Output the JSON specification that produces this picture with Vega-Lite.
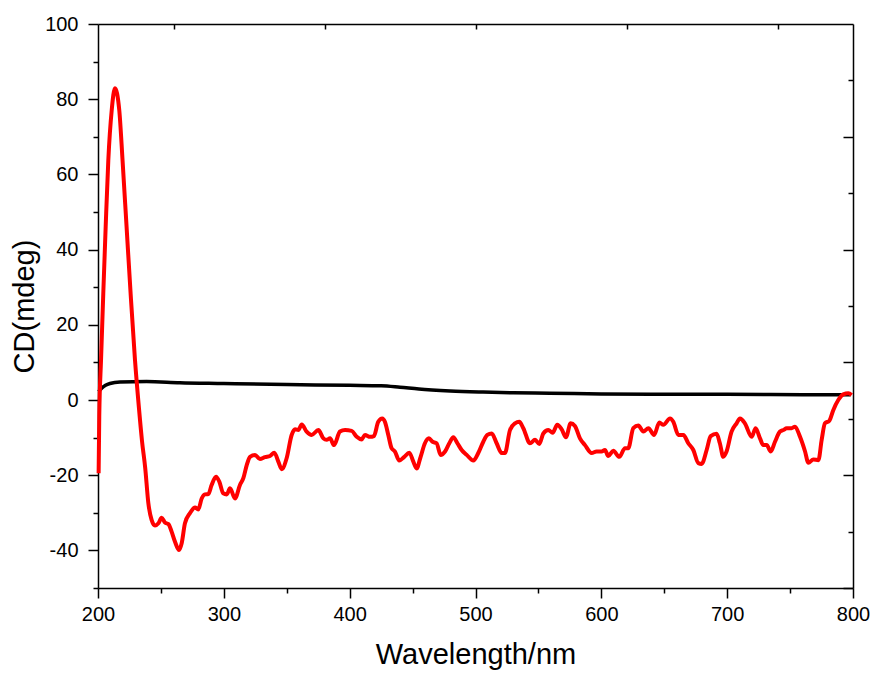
{
  "$schema": "https://vega.github.io/schema/vega-lite/v6.json",
  "width": 755,
  "height": 564,
  "autosize": {"type": "none"},
  "padding": {"left": 98, "top": 24, "right": 22, "bottom": 89},
  "background": "white",
  "config": {
    "view": {"stroke": null},
    "axis": {
      "labelFont": "Liberation Sans",
      "titleFont": "Liberation Sans",
      "labelFontSize": 20,
      "titleFontSize": 29,
      "titleFontWeight": "normal",
      "labelColor": "#000000",
      "titleColor": "#000000",
      "tickColor": "#000000",
      "domainColor": "#000000",
      "domainWidth": 1.5,
      "tickWidth": 1.5,
      "grid": false,
      "labelFlush": false,
      "labelOverlap": false
    }
  },
  "data": {
    "values": [
      {"series": "black", "wl": 200.5, "cd": 2.2},
      {"series": "black", "wl": 202.9, "cd": 3.1},
      {"series": "black", "wl": 206, "cd": 3.9},
      {"series": "black", "wl": 209.5, "cd": 4.4},
      {"series": "black", "wl": 217.5, "cd": 4.8},
      {"series": "black", "wl": 238.6, "cd": 4.9},
      {"series": "black", "wl": 265, "cd": 4.6},
      {"series": "black", "wl": 300, "cd": 4.4},
      {"series": "black", "wl": 350, "cd": 4.1},
      {"series": "black", "wl": 400, "cd": 3.9},
      {"series": "black", "wl": 425, "cd": 3.8},
      {"series": "black", "wl": 440, "cd": 3.4},
      {"series": "black", "wl": 455, "cd": 2.9},
      {"series": "black", "wl": 480, "cd": 2.4},
      {"series": "black", "wl": 506, "cd": 2.1},
      {"series": "black", "wl": 530, "cd": 1.9},
      {"series": "black", "wl": 559, "cd": 1.8},
      {"series": "black", "wl": 600, "cd": 1.6},
      {"series": "black", "wl": 640, "cd": 1.5},
      {"series": "black", "wl": 700, "cd": 1.5},
      {"series": "black", "wl": 760, "cd": 1.4},
      {"series": "black", "wl": 798, "cd": 1.4},
      {"series": "red", "wl": 200.5, "cd": -19.5},
      {"series": "red", "wl": 201, "cd": -4.4},
      {"series": "red", "wl": 202.4, "cd": 10.6},
      {"series": "red", "wl": 204.2, "cd": 28.4},
      {"series": "red", "wl": 206.1, "cd": 46.1},
      {"series": "red", "wl": 208.2, "cd": 63.8},
      {"series": "red", "wl": 210.9, "cd": 77.1},
      {"series": "red", "wl": 213.5, "cd": 82.9},
      {"series": "red", "wl": 216.9, "cd": 77.1},
      {"series": "red", "wl": 219.5, "cd": 63.8},
      {"series": "red", "wl": 222.7, "cd": 46.1},
      {"series": "red", "wl": 225.9, "cd": 28.4},
      {"series": "red", "wl": 229.4, "cd": 10.6},
      {"series": "red", "wl": 232.5, "cd": -2},
      {"series": "red", "wl": 235, "cd": -11},
      {"series": "red", "wl": 237.5, "cd": -18},
      {"series": "red", "wl": 240, "cd": -27.4},
      {"series": "red", "wl": 242.6, "cd": -31.9},
      {"series": "red", "wl": 245.3, "cd": -33.4},
      {"series": "red", "wl": 248, "cd": -32.8},
      {"series": "red", "wl": 250.6, "cd": -31.3},
      {"series": "red", "wl": 253.2, "cd": -32.6},
      {"series": "red", "wl": 255.9, "cd": -33},
      {"series": "red", "wl": 258.5, "cd": -35},
      {"series": "red", "wl": 261.2, "cd": -37.7},
      {"series": "red", "wl": 264.4, "cd": -39.9},
      {"series": "red", "wl": 266.5, "cd": -38.1},
      {"series": "red", "wl": 269.1, "cd": -32.8},
      {"series": "red", "wl": 273.1, "cd": -30.1},
      {"series": "red", "wl": 277.1, "cd": -28.6},
      {"series": "red", "wl": 279.7, "cd": -29.1},
      {"series": "red", "wl": 282.4, "cd": -26.2},
      {"series": "red", "wl": 285, "cd": -25.1},
      {"series": "red", "wl": 287.7, "cd": -25},
      {"series": "red", "wl": 290.3, "cd": -22.6},
      {"series": "red", "wl": 293.8, "cd": -20.4},
      {"series": "red", "wl": 296.4, "cd": -21.7},
      {"series": "red", "wl": 299.5, "cd": -24.8},
      {"series": "red", "wl": 302.3, "cd": -25.1},
      {"series": "red", "wl": 304.9, "cd": -23.5},
      {"series": "red", "wl": 308.9, "cd": -26.2},
      {"series": "red", "wl": 312.8, "cd": -22.6},
      {"series": "red", "wl": 315.5, "cd": -20.8},
      {"series": "red", "wl": 318.2, "cd": -17.3},
      {"series": "red", "wl": 320.8, "cd": -15.1},
      {"series": "red", "wl": 324.8, "cd": -14.6},
      {"series": "red", "wl": 328.7, "cd": -15.7},
      {"series": "red", "wl": 332.7, "cd": -15.2},
      {"series": "red", "wl": 336.7, "cd": -14.9},
      {"series": "red", "wl": 340.1, "cd": -14},
      {"series": "red", "wl": 343.3, "cd": -16.4},
      {"series": "red", "wl": 346, "cd": -18.4},
      {"series": "red", "wl": 349.9, "cd": -15.5},
      {"series": "red", "wl": 353.9, "cd": -9.3},
      {"series": "red", "wl": 356.6, "cd": -7.8},
      {"series": "red", "wl": 359.2, "cd": -8},
      {"series": "red", "wl": 361.9, "cd": -6.5},
      {"series": "red", "wl": 365.8, "cd": -8.4},
      {"series": "red", "wl": 369.8, "cd": -9.3},
      {"series": "red", "wl": 375.1, "cd": -8},
      {"series": "red", "wl": 379.1, "cd": -10.2},
      {"series": "red", "wl": 381.7, "cd": -10.6},
      {"series": "red", "wl": 384.4, "cd": -10.2},
      {"series": "red", "wl": 387.5, "cd": -12},
      {"series": "red", "wl": 392.3, "cd": -8.4},
      {"series": "red", "wl": 396.3, "cd": -8},
      {"series": "red", "wl": 401.6, "cd": -8.2},
      {"series": "red", "wl": 405.6, "cd": -9.8},
      {"series": "red", "wl": 409.5, "cd": -10.5},
      {"series": "red", "wl": 412.2, "cd": -9.3},
      {"series": "red", "wl": 416.2, "cd": -9.8},
      {"series": "red", "wl": 419.3, "cd": -9.6},
      {"series": "red", "wl": 422.7, "cd": -5.8},
      {"series": "red", "wl": 425.9, "cd": -4.9},
      {"series": "red", "wl": 428, "cd": -5.8},
      {"series": "red", "wl": 430.7, "cd": -9.3},
      {"series": "red", "wl": 433.3, "cd": -12.8},
      {"series": "red", "wl": 436, "cd": -13.7},
      {"series": "red", "wl": 439.4, "cd": -16.1},
      {"series": "red", "wl": 443.2, "cd": -15.2},
      {"series": "red", "wl": 447.4, "cd": -14},
      {"series": "red", "wl": 450.6, "cd": -16.4},
      {"series": "red", "wl": 453.2, "cd": -18.2},
      {"series": "red", "wl": 456.4, "cd": -15.1},
      {"series": "red", "wl": 459.8, "cd": -11.5},
      {"series": "red", "wl": 463, "cd": -10.2},
      {"series": "red", "wl": 465.9, "cd": -11.1},
      {"series": "red", "wl": 469.1, "cd": -11.5},
      {"series": "red", "wl": 472.3, "cd": -14.6},
      {"series": "red", "wl": 475.8, "cd": -13.7},
      {"series": "red", "wl": 479.2, "cd": -11.5},
      {"series": "red", "wl": 482.4, "cd": -9.9},
      {"series": "red", "wl": 485.6, "cd": -11.5},
      {"series": "red", "wl": 489, "cd": -13.3},
      {"series": "red", "wl": 493, "cd": -14.6},
      {"series": "red", "wl": 498.3, "cd": -16.1},
      {"series": "red", "wl": 502.2, "cd": -14.1},
      {"series": "red", "wl": 506.2, "cd": -11.1},
      {"series": "red", "wl": 509.4, "cd": -9.3},
      {"series": "red", "wl": 512.9, "cd": -8.9},
      {"series": "red", "wl": 516.8, "cd": -11.5},
      {"series": "red", "wl": 520.8, "cd": -14.1},
      {"series": "red", "wl": 523.4, "cd": -14.1},
      {"series": "red", "wl": 527.4, "cd": -8},
      {"series": "red", "wl": 531.4, "cd": -6.2},
      {"series": "red", "wl": 534.8, "cd": -5.8},
      {"series": "red", "wl": 538, "cd": -7.5},
      {"series": "red", "wl": 543.3, "cd": -11.5},
      {"series": "red", "wl": 547.3, "cd": -10.6},
      {"series": "red", "wl": 550.7, "cd": -11.7},
      {"series": "red", "wl": 553.9, "cd": -8.9},
      {"series": "red", "wl": 557.9, "cd": -8},
      {"series": "red", "wl": 561.3, "cd": -8.7},
      {"series": "red", "wl": 565, "cd": -6.6},
      {"series": "red", "wl": 568.5, "cd": -7.8},
      {"series": "red", "wl": 571.9, "cd": -9.9},
      {"series": "red", "wl": 575.6, "cd": -6.2},
      {"series": "red", "wl": 579, "cd": -6.9},
      {"series": "red", "wl": 583, "cd": -10.2},
      {"series": "red", "wl": 587, "cd": -12},
      {"series": "red", "wl": 592.3, "cd": -14.1},
      {"series": "red", "wl": 596.2, "cd": -13.7},
      {"series": "red", "wl": 600.2, "cd": -13.7},
      {"series": "red", "wl": 602.9, "cd": -13.3},
      {"series": "red", "wl": 605.5, "cd": -14.9},
      {"series": "red", "wl": 609.5, "cd": -13.5},
      {"series": "red", "wl": 614.3, "cd": -15.1},
      {"series": "red", "wl": 618.8, "cd": -12.8},
      {"series": "red", "wl": 621.4, "cd": -12.8},
      {"series": "red", "wl": 625.4, "cd": -7.5},
      {"series": "red", "wl": 629.4, "cd": -6.8},
      {"series": "red", "wl": 633.4, "cd": -8.4},
      {"series": "red", "wl": 637.4, "cd": -7.5},
      {"series": "red", "wl": 641.9, "cd": -9.3},
      {"series": "red", "wl": 646.1, "cd": -6},
      {"series": "red", "wl": 649.3, "cd": -6.6},
      {"series": "red", "wl": 654.6, "cd": -4.9},
      {"series": "red", "wl": 657.2, "cd": -5.8},
      {"series": "red", "wl": 661.2, "cd": -9.3},
      {"series": "red", "wl": 665.2, "cd": -9.3},
      {"series": "red", "wl": 669.1, "cd": -11.5},
      {"series": "red", "wl": 673.1, "cd": -13.3},
      {"series": "red", "wl": 677.1, "cd": -16.8},
      {"series": "red", "wl": 679.7, "cd": -17},
      {"series": "red", "wl": 683.7, "cd": -13.3},
      {"series": "red", "wl": 686.9, "cd": -9.6},
      {"series": "red", "wl": 691.6, "cd": -9},
      {"series": "red", "wl": 694.2, "cd": -11.5},
      {"series": "red", "wl": 696.9, "cd": -15.1},
      {"series": "red", "wl": 699.5, "cd": -13.7},
      {"series": "red", "wl": 703.5, "cd": -8.4},
      {"series": "red", "wl": 707.5, "cd": -6.2},
      {"series": "red", "wl": 710.2, "cd": -4.9},
      {"series": "red", "wl": 714.1, "cd": -6.2},
      {"series": "red", "wl": 719.5, "cd": -9.8},
      {"series": "red", "wl": 722.6, "cd": -7.5},
      {"series": "red", "wl": 726.1, "cd": -10.2},
      {"series": "red", "wl": 728.7, "cd": -12},
      {"series": "red", "wl": 731.4, "cd": -12},
      {"series": "red", "wl": 734.6, "cd": -13.7},
      {"series": "red", "wl": 738, "cd": -11.1},
      {"series": "red", "wl": 742, "cd": -8.4},
      {"series": "red", "wl": 744.6, "cd": -8},
      {"series": "red", "wl": 747.3, "cd": -7.5},
      {"series": "red", "wl": 751.2, "cd": -7.5},
      {"series": "red", "wl": 753.9, "cd": -7.1},
      {"series": "red", "wl": 757.9, "cd": -9.8},
      {"series": "red", "wl": 761.9, "cd": -13.7},
      {"series": "red", "wl": 764.5, "cd": -16.7},
      {"series": "red", "wl": 768.5, "cd": -15.8},
      {"series": "red", "wl": 772.5, "cd": -16},
      {"series": "red", "wl": 775.1, "cd": -10.6},
      {"series": "red", "wl": 777.7, "cd": -6.2},
      {"series": "red", "wl": 781.2, "cd": -5.5},
      {"series": "red", "wl": 784.3, "cd": -2.7},
      {"series": "red", "wl": 788.3, "cd": 0},
      {"series": "red", "wl": 792.3, "cd": 1.5},
      {"series": "red", "wl": 796.3, "cd": 1.8},
      {"series": "red", "wl": 798.9, "cd": 1.3}
    ]
  },
  "resolve": {"axis": {"x": "independent", "y": "independent"}},
  "layer": [
    {
      "transform": [{"filter": "datum.series === 'black'"}],
      "mark": {"type": "line", "color": "#000000", "strokeWidth": 3.5, "interpolate": "monotone"},
      "encoding": {
        "x": {"field": "wl", "type": "quantitative",
              "scale": {"domain": [200, 800], "nice": false, "zero": false},
              "axis": {"orient": "bottom", "values": [200, 300, 400, 500, 600, 700, 800], "tickSize": 10, "labelPadding": 6, "title": "Wavelength/nm", "titlePadding": 16}},
        "y": {"field": "cd", "type": "quantitative",
              "scale": {"domain": [-50, 100], "nice": false, "zero": false},
              "axis": {"orient": "left", "values": [-40, -20, 0, 20, 40, 60, 80, 100], "tickSize": 10, "labelPadding": 10, "labelExpr": "datum.value < 0 ? '-' + abs(datum.value) : '' + datum.value", "title": "CD(mdeg)", "titlePadding": 5}}
      }
    },
    {
      "transform": [{"filter": "datum.series === 'red'"}],
      "mark": {"type": "line", "color": "#ff0000", "strokeWidth": 4, "interpolate": "monotone"},
      "encoding": {
        "x": {"field": "wl", "type": "quantitative",
              "scale": {"domain": [200, 800], "nice": false, "zero": false},
              "axis": {"orient": "bottom", "values": [250, 350, 450, 550, 650, 750], "tickSize": 5, "labels": false, "domain": false, "title": null}},
        "y": {"field": "cd", "type": "quantitative",
              "scale": {"domain": [-50, 100], "nice": false, "zero": false},
              "axis": {"orient": "left", "values": [-50, -30, -10, 10, 30, 50, 70, 90], "tickSize": 5, "labels": false, "domain": false, "title": null}}
      }
    },
    {
      "transform": [{"filter": "datum.series === 'red'"}],
      "mark": {"type": "line", "strokeOpacity": 0},
      "encoding": {
        "x": {"field": "wl", "type": "quantitative",
              "scale": {"domain": [200, 800], "nice": false, "zero": false},
              "axis": {"orient": "top", "values": [260, 380, 500, 620, 740], "tickSize": -5, "labels": false, "title": null}},
        "y": {"field": "cd", "type": "quantitative",
              "scale": {"domain": [-50, 100], "nice": false, "zero": false},
              "axis": {"orient": "right", "values": [70, 40, 10, -20, -50], "tickSize": -10, "labels": false, "title": null}}
      }
    },
    {
      "transform": [{"filter": "datum.series === 'red'"}],
      "mark": {"type": "line", "strokeOpacity": 0},
      "encoding": {
        "x": {"field": "wl", "type": "quantitative",
              "scale": {"domain": [200, 800], "nice": false, "zero": false},
              "axis": null},
        "y": {"field": "cd", "type": "quantitative",
              "scale": {"domain": [-50, 100], "nice": false, "zero": false},
              "axis": {"orient": "right", "values": [85, 55, 25, -5, -35], "tickSize": -5, "labels": false, "domain": false, "title": null}}
      }
    }
  ]
}
